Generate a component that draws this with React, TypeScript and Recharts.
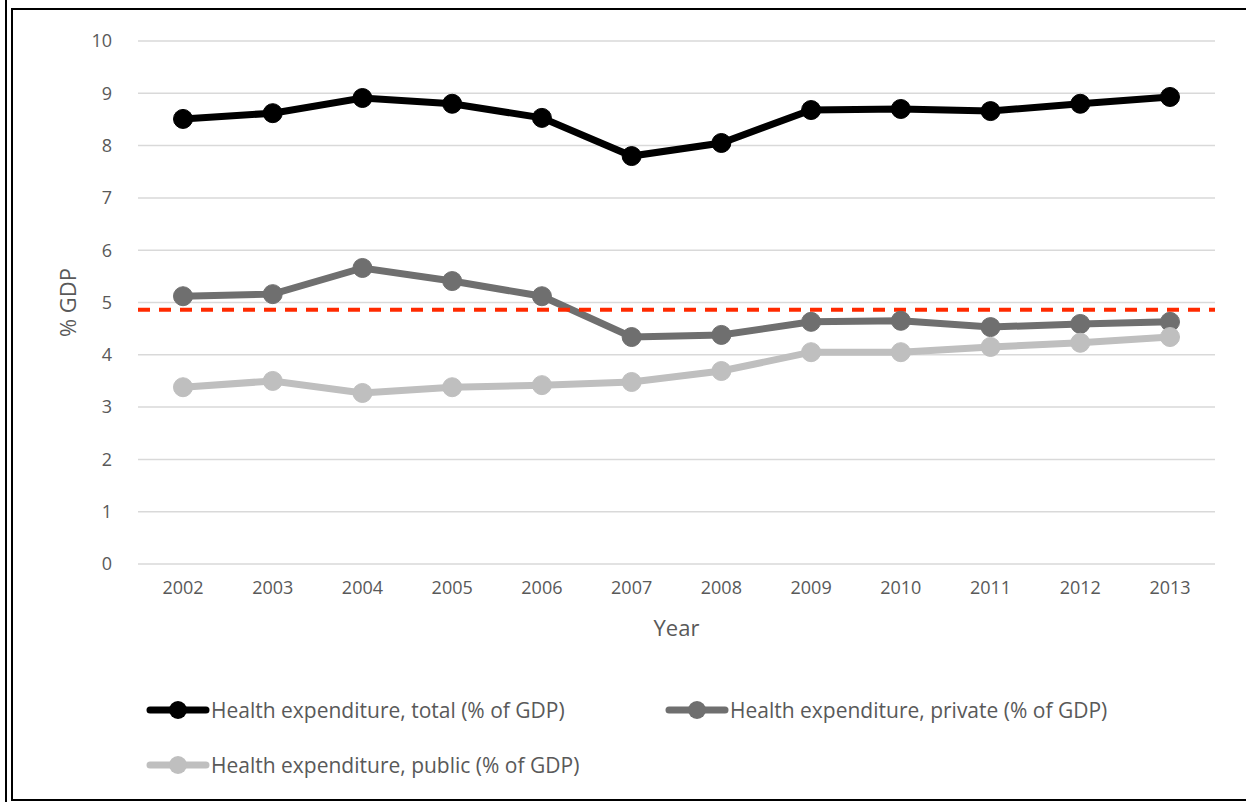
import { LineChart, Line, XAxis, YAxis, CartesianGrid, ReferenceLine } from 'recharts';

const years = ['2002', '2003', '2004', '2005', '2006', '2007', '2008', '2009', '2010', '2011', '2012', '2013'];
const totalValues = [8.51, 8.62, 8.91, 8.8, 8.53, 7.8, 8.05, 8.68, 8.7, 8.66, 8.8, 8.93];
const privateValues = [5.12, 5.16, 5.66, 5.41, 5.12, 4.34, 4.38, 4.63, 4.65, 4.53, 4.59, 4.63];
const publicValues = [3.38, 3.5, 3.27, 3.38, 3.42, 3.48, 3.69, 4.05, 4.05, 4.15, 4.23, 4.34];
const yTicks = [0, 1, 2, 3, 4, 5, 6, 7, 8, 9, 10];
const thresholdValue = 4.86;

const seriesInfo = [
  { key: 'total', name: 'Health expenditure, total (% of GDP)', color: '#000000' },
  { key: 'private', name: 'Health expenditure, private (% of GDP)', color: '#6f6f6f' },
  { key: 'public', name: 'Health expenditure, public (% of GDP)', color: '#bfbfbf' },
];

const chartData = years.map((year, i) => ({
  year,
  total: totalValues[i],
  private: privateValues[i],
  public: publicValues[i],
}));

const FONT = '"Open Sans", sans-serif';
const TEXT = '#595959';

function LegendItem({ name, color }: { name: string; color: string }) {
  return (
    <div style={{ display: 'flex', alignItems: 'center' }}>
      <svg width={64} height={20}>
        <line x1={4} y1={10} x2={60} y2={10} stroke={color} strokeWidth={7} strokeLinecap="round" />
        <circle cx={32} cy={10} r={9} fill={color} />
      </svg>
      <span style={{ fontFamily: FONT, fontSize: 21, color: TEXT, marginLeft: 1, whiteSpace: 'nowrap' }}>{name}</span>
    </div>
  );
}

export default function App() {
  return (
    <div style={{ position: 'absolute', left: 0, top: 0, width: 1246, height: 802, background: '#fff', overflow: 'hidden' }}>
      <div style={{ position: 'absolute', left: 5, top: 0, width: 2, height: 802, background: '#000' }} />
      <div
        style={{
          position: 'absolute',
          left: 11,
          top: 8,
          width: 1260,
          height: 789,
          borderLeft: '2px solid #000',
          borderTop: '2px solid #000',
          borderBottom: '2px solid #000',
        }}
      />
      <div style={{ position: 'absolute', left: 0, top: 0 }}>
        <LineChart width={1246} height={660} data={chartData} margin={{ top: 41, right: 31, left: 78, bottom: 30 }}>
          <CartesianGrid vertical={false} stroke="#d9d9d9" strokeWidth={1.5} />
          <XAxis
            dataKey="year"
            axisLine={false}
            tickLine={false}
            tickSize={0}
            tickMargin={17}
            height={66}
            padding={{ left: 45, right: 45 }}
            tick={{ fill: TEXT, fontSize: 18, fontFamily: FONT }}
            label={{ value: 'Year', position: 'insideBottom', offset: -6, fill: TEXT, fontSize: 22, fontFamily: FONT }}
          />
          <YAxis
            domain={[0, 10]}
            ticks={yTicks}
            axisLine={false}
            tickLine={false}
            tickSize={0}
            tickMargin={26}
            width={60}
            tick={{ fill: TEXT, fontSize: 18, fontFamily: FONT }}
            label={{
              value: '% GDP',
              angle: -90,
              position: 'insideLeft',
              offset: -10,
              style: { textAnchor: 'middle' },
              fill: TEXT,
              fontSize: 22,
              fontFamily: FONT,
            }}
          />
          {seriesInfo.map((s) => (
            <Line
              key={s.key}
              type="linear"
              dataKey={s.key}
              name={s.name}
              stroke={s.color}
              strokeWidth={7}
              dot={{ r: 9.5, fill: s.color, stroke: s.color, strokeWidth: 1 }}
              activeDot={false}
              isAnimationActive={false}
            />
          ))}
          <ReferenceLine y={thresholdValue} stroke="#ff2a00" strokeWidth={4} strokeDasharray="12 9" />
        </LineChart>
      </div>
      <div style={{ position: 'absolute', left: 146, top: 696 }}>
        <LegendItem name={seriesInfo[0].name} color={seriesInfo[0].color} />
      </div>
      <div style={{ position: 'absolute', left: 665, top: 696 }}>
        <LegendItem name={seriesInfo[1].name} color={seriesInfo[1].color} />
      </div>
      <div style={{ position: 'absolute', left: 146, top: 751 }}>
        <LegendItem name={seriesInfo[2].name} color={seriesInfo[2].color} />
      </div>
    </div>
  );
}
